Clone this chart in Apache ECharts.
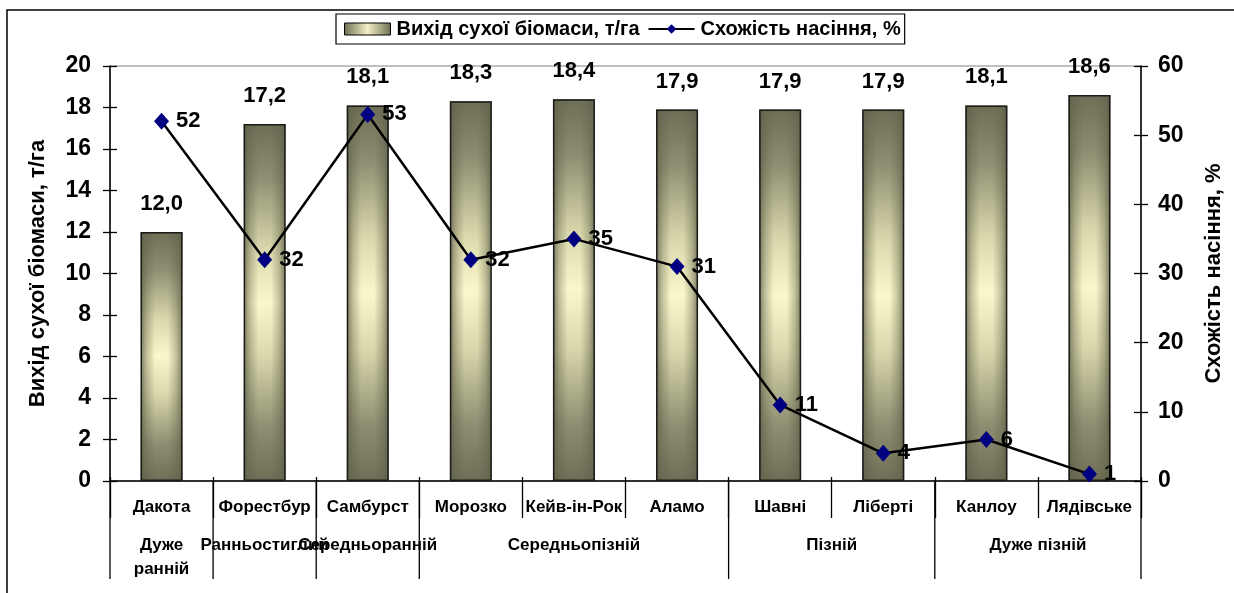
<!DOCTYPE html>
<html>
<head>
<meta charset="utf-8">
<script src="https://cdn.jsdelivr.net/npm/echarts@6/dist/echarts.min.js"></script>
<style>
html,body{margin:0;padding:0;background:#fff;}
#c{width:1234px;height:593px;}
</style>
</head>
<body>
<div id="c"></div>
<script>
const categories = ['Дакота','Форестбур','Самбурст','Морозко','Кейв-ін-Рок','Аламо','Шавні','Ліберті','Канлоу','Лядівське'];
const biomass = [12.0,17.2,18.1,18.3,18.4,17.9,17.9,17.9,18.1,18.6];
const germination = [52,32,53,32,35,31,11,4,6,1];
const groupNames = ['Дуже ранній','Ранньостиглий','Середньоранній','Середньопізній','Пізній','Дуже пізній'];
const groupSizes = [1,1,1,3,2,2];
const leftAxis = {min:0, max:20, interval:2};
const rightAxis = {min:0, max:60, interval:10};
const seriesNames = ['Вихід сухої біомаси, т/га','Схожість насіння, %'];
const leftAxisName = 'Вихід сухої біомаси, т/га';
const rightAxisName = 'Схожість насіння, %';

const FONT = 'Liberation Sans, Arial, sans-serif';
const chart = echarts.init(document.getElementById('c'), null, {renderer:'canvas'});

const vGrad = new echarts.graphic.LinearGradient(0,0,0,1,[
  {offset:0,color:'#6e6e56'},
  {offset:0.15,color:'#8f8e72'},
  {offset:0.35,color:'#d9d8ac'},
  {offset:0.5,color:'#faf8cb'},
  {offset:0.65,color:'#d9d8ac'},
  {offset:0.85,color:'#8f8e72'},
  {offset:1,color:'#6e6e56'}
]);
const hGrad = new echarts.graphic.LinearGradient(0,0,1,0,[
  {offset:0,color:'rgba(95,95,72,0.8)'},
  {offset:0.15,color:'rgba(95,95,72,0.35)'},
  {offset:0.35,color:'rgba(95,95,72,0)'},
  {offset:0.65,color:'rgba(95,95,72,0)'},
  {offset:0.85,color:'rgba(95,95,72,0.35)'},
  {offset:1,color:'rgba(95,95,72,0.8)'}
]);
const legendGrad = new echarts.graphic.LinearGradient(0,0,1,0,[
  {offset:0,color:'#6e6e56'},
  {offset:0.5,color:'#f3f1c4'},
  {offset:1,color:'#6e6e56'}
]);

const tickLabel = {fontFamily:FONT, fontWeight:'bold', fontSize:23, color:'#000'};

const grid = {left:110, right:93, top:66, bottom:112, show:true, borderColor:'#808080', borderWidth:1, backgroundColor:'transparent'};

const option = {
  animation:false,
  backgroundColor:'#fff',
  grid: grid,
  legend: {
    left:336, top:14,
    data:[{name:seriesNames[0], icon:'rect', itemStyle:{color:legendGrad, borderColor:'#000', borderWidth:1}}, {name:seriesNames[1]}],
    borderColor:'#000', borderWidth:1.2, padding:[5,4,5,8],
    itemGap:8, itemWidth:46, itemHeight:12,
    textStyle:{fontFamily:FONT, fontWeight:'bold', fontSize:20, color:'#000', padding:[0,0,0,1]}
  },
  xAxis: [
    {type:'category', data:categories, position:'bottom',
     axisLine:{lineStyle:{color:'#000', width:1.5}},
     axisTick:{show:true, alignWithLabel:false, length:37, lineStyle:{color:'#000', width:1.3}},
     axisLabel:{interval:0, margin:18, fontFamily:FONT, fontWeight:'bold', fontSize:17, color:'#000'}},
    {type:'category', data:categories, position:'bottom',
     axisLine:{show:false},
     axisTick:{show:true, inside:true, length:4, lineStyle:{color:'#000', width:1.3}},
     axisLabel:{show:false}}
  ],
  yAxis: [
    {type:'value', position:'left', min:leftAxis.min, max:leftAxis.max, interval:leftAxis.interval,
     name:leftAxisName, nameLocation:'middle', nameGap:61, nameRotate:90,
     nameTextStyle:{fontFamily:FONT, fontWeight:'bold', fontSize:22, color:'#000'},
     axisLine:{show:true, lineStyle:{color:'#000', width:1.5}},
     axisTick:{show:true, length:7, lineStyle:{color:'#000', width:1.3}},
     axisLabel:Object.assign({margin:19}, tickLabel),
     splitLine:{show:false}},
    {type:'value', position:'right', min:rightAxis.min, max:rightAxis.max, interval:rightAxis.interval,
     name:rightAxisName, nameLocation:'middle', nameGap:62, nameRotate:90,
     nameTextStyle:{fontFamily:FONT, fontWeight:'bold', fontSize:22, color:'#000'},
     axisLine:{show:true, lineStyle:{color:'#000', width:1.5}},
     axisTick:{show:true, length:7, lineStyle:{color:'#000', width:1.3}},
     axisLabel:Object.assign({margin:17}, tickLabel),
     splitLine:{show:false}},
    {type:'value', position:'left', min:leftAxis.min, max:leftAxis.max, interval:leftAxis.interval,
     axisLine:{show:false}, axisLabel:{show:false}, splitLine:{show:false},
     axisTick:{show:true, inside:true, length:7, lineStyle:{color:'#000', width:1.3}}},
    {type:'value', position:'right', min:rightAxis.min, max:rightAxis.max, interval:rightAxis.interval,
     axisLine:{show:false}, axisLabel:{show:false}, splitLine:{show:false},
     axisTick:{show:true, inside:true, length:7, lineStyle:{color:'#000', width:1.3}}}
  ],
  series: [
    {name:seriesNames[0], type:'bar', xAxisIndex:0, yAxisIndex:0, data:biomass, barWidth:42,
     itemStyle:{color:vGrad}, z:2},
    {name:'overlay', type:'bar', xAxisIndex:0, yAxisIndex:0, data:biomass, barWidth:42, barGap:'-100%',
     itemStyle:{color:hGrad, borderColor:'#1a1a1a', borderWidth:1.5}, z:3,
     label:{show:true, position:'top', distance:17, fontFamily:FONT, fontWeight:'bold', fontSize:22, color:'#000',
       formatter:p => p.value.toFixed(1).replace('.', ',')}},
    {name:seriesNames[1], type:'line', xAxisIndex:0, yAxisIndex:1, data:germination,
     symbol:'diamond', symbolSize:[15,17], z:5,
     itemStyle:{color:'#000080'}, lineStyle:{color:'#000', width:2.5},
     label:{show:true, position:'right', distance:7, fontFamily:FONT, fontWeight:'bold', fontSize:22, color:'#000'}}
  ]
};
chart.setOption(option);

// Group separators and labels below the category axis, positioned via the axis scale
const c0 = chart.convertToPixel({xAxisIndex:0}, categories[0]);
const c1 = chart.convertToPixel({xAxisIndex:0}, categories[1]);
const band = c1 - c0;
const axisY = chart.convertToPixel({yAxisIndex:0}, 0);
const groupFont = 'bold 17px ' + FONT;
const measure = document.createElement('canvas').getContext('2d');
measure.font = groupFont;
const graphics = [
  {type:'rect', shape:{x:7, y:10, width:1400, height:800}, style:{fill:'none', stroke:'#000', lineWidth:1.5}, silent:true, z:0}
];
let idx = 0;
const boundaries = [c0 - band/2];
groupNames.forEach((g, i) => {
  const startX = c0 + (idx - 0.5) * band;
  const endX = c0 + (idx + groupSizes[i] - 0.5) * band;
  boundaries.push(endX);
  let txt = g;
  if (g.indexOf(' ') >= 0 && measure.measureText(g).width > (endX - startX) - 10) txt = g.replace(' ', '\n');
  graphics.push({type:'text', x:(startX+endX)/2, y:axisY + 52, z:10,
    style:{text:txt, align:'center', verticalAlign:'top',
      lineHeight:24, font:groupFont, fill:'#000'}});
  idx += groupSizes[i];
});
boundaries.forEach(x => {
  graphics.push({type:'line', shape:{x1:x, y1:axisY, x2:x, y2:axisY + 98}, style:{stroke:'#000', lineWidth:1.3}, z:10});
});
chart.setOption({graphic: graphics});
</script>
</body>
</html>
